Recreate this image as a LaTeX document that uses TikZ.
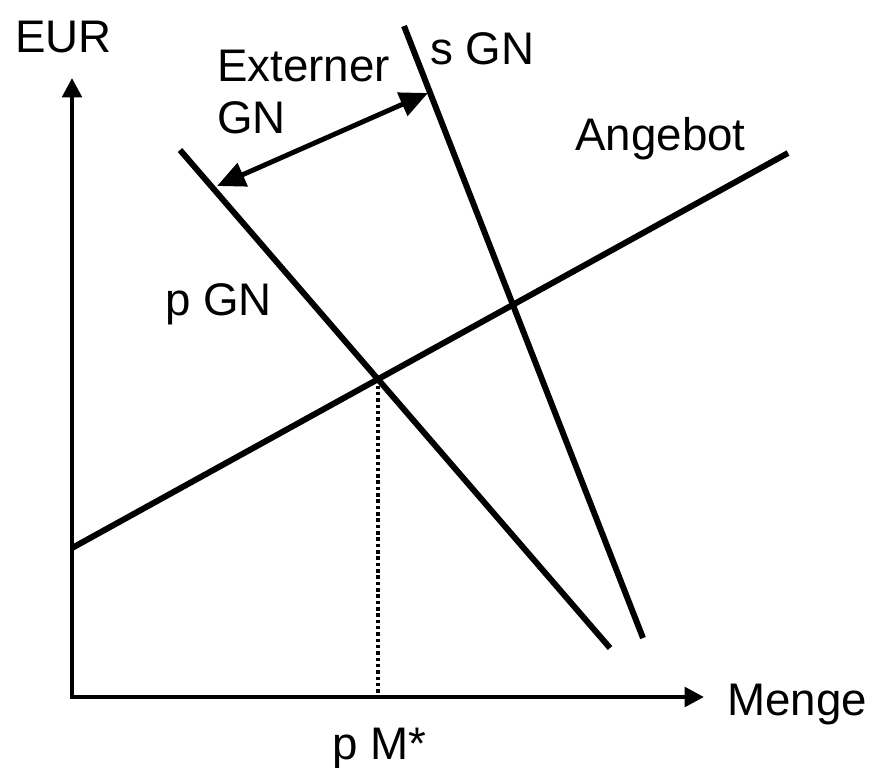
\documentclass[tikz,border=0pt]{standalone}
\usepackage{fontspec}
\setmainfont{Liberation Sans}
\usetikzlibrary{arrows.meta}
\tikzset{
    curve/.style={line width=3.4pt},
    axis/.style={line width=2.4pt, {Triangle[length=11pt,width=11pt]}-{Triangle[length=11pt,width=11pt]}},
    gap/.style={line width=2.8pt, {Triangle[length=16pt,width=14pt]}-{Triangle[length=16pt,width=14pt]}},
    lbl/.style={anchor=base west, inner sep=0pt, align=left, font=\fontsize{26}{29.5}\selectfont},
}
\begin{document}
\begin{tikzpicture}[x=0.02cm, y=-0.02cm]
    \useasboundingbox (0,0) rectangle (874,767);
    \coordinate (O) at (72, 697);
    \coordinate (Y) at (72, 78);
    \coordinate (X) at (704, 697);
    \coordinate (A1) at (72, 548);
    \coordinate (A2) at (788, 153);
    \coordinate (P1) at (180, 150);
    \coordinate (P2) at (610, 648);
    \coordinate (S1) at (404, 26);
    \coordinate (S2) at (643, 638);
    \coordinate (E) at (intersection of A1--A2 and P1--P2);
    \coordinate (L) at (217, 186);
    \coordinate (R) at (428, 93);
    \draw[axis] (Y) -- (O) -- (X);
    \draw[curve] (A1) -- (A2);
    \draw[curve] (P1) -- (P2);
    \draw[curve] (S1) -- (S2);
    \draw[line width=2pt, dash pattern=on 2pt off 1.6pt] (E) -- (E |- O);
    \draw[gap] (L) -- (R);
    \node[lbl] (eur) at (15, 52) {EUR};
    \node[lbl] (ext) at (217, 133) {Externer\\GN};
    \node[lbl] (sgn) at (430, 65) {s GN};
    \node[lbl] (ang) at (575, 150) {Angebot};
    \node[lbl] (pgn) at (165, 315) {p GN};
    \node[lbl] (menge) at (727, 715) {Menge};
    \node[lbl] (pm) at (332, 759) {p M*};
\end{tikzpicture}
\end{document}
